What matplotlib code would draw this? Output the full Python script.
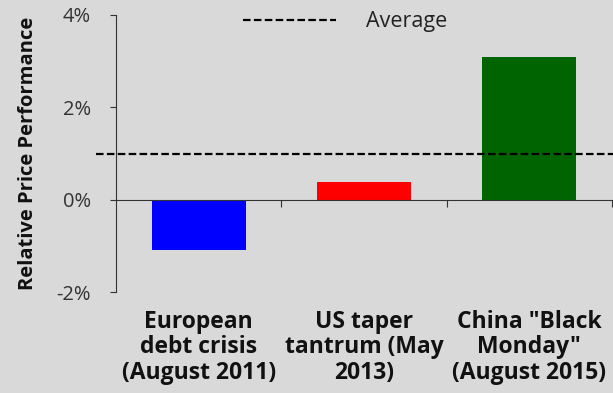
import matplotlib
matplotlib.use("Agg")
import matplotlib.pyplot as plt
import matplotlib.transforms as mtransforms

# relative price performance by episode (%)
events = ["European\ndebt crisis\n(August 2011)",
          "US taper\ntantrum (May\n2013)",
          "China \"Black\nMonday\"\n(August 2015)"]
performance = [-1.1, 0.38, 3.08]
bar_colors = ["#0000ff", "#ff0000", "#006400"]
average = 1.0
yticks = [-2, 0, 2, 4]

bg = "#d9d9d9"
plt.rcParams['font.family'] = ['Open Sans', 'DejaVu Sans']

fig = plt.figure(figsize=(6.13, 3.93), dpi=100, facecolor=bg)
ax = fig.add_axes([116/613, 1 - 292/393, (612 - 116)/613, (292 - 15)/393])
ax.set_facecolor(bg)

x = list(range(len(events)))
ax.bar(x, performance, width=0.57, color=bar_colors, zorder=2)

# average line runs past the left axis to the figure edge
trans = mtransforms.blended_transform_factory(ax.transAxes, ax.transData)
avg_line, = ax.plot([-0.04, 1.01], [average, average], transform=trans,
                    color="black", lw=1.6, dashes=(3.4, 1.5), clip_on=False, zorder=3)

ax.set_xlim(-0.5, 2.5)
ax.set_ylim(-2, 4)
ax.set_yticks(yticks)
ax.set_yticklabels([f"{v}%" for v in yticks], fontsize=14.5, color="#333333")

ax.spines['top'].set_visible(False)
ax.spines['right'].set_visible(False)
ax.spines['bottom'].set_position(('data', 0))
ax.spines['left'].set_color("#333333")
ax.spines['bottom'].set_color("#333333")
ax.set_xticks([0.5, 1.5, 2.5])
ax.set_xticklabels([])
ax.tick_params(axis='x', direction='out', length=5, color="#333333")
ax.tick_params(axis='y', direction='out', length=4, color="#333333", pad=14)

for xi, label in zip(x, events):
    ax.text(xi, -2.38, label, ha='center', va='top', fontsize=16.5,
            fontweight='bold', linespacing=1.1, color="#111111")

ax.set_ylabel("Relative Price Performance", fontsize=14.5, fontweight='bold',
              color="#111111", labelpad=13)

fig.legend([avg_line], ["Average"], loc='center left',
           bbox_to_anchor=(243/613, 1 - 22/393), frameon=False,
           handlelength=4.3, handletextpad=1.4, borderpad=0, borderaxespad=0,
           fontsize=15.5, labelcolor="#222222")

fig.savefig("out.png", dpi=100, facecolor=bg)
